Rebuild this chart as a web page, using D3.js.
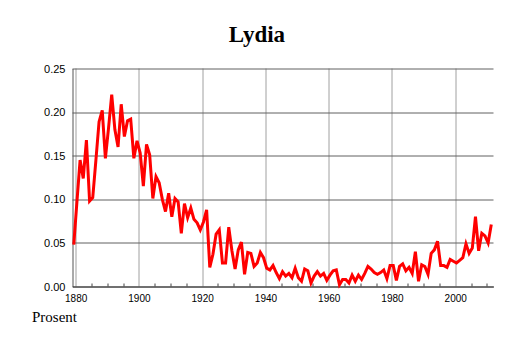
<!DOCTYPE html>
<html>
<head>
<meta charset="utf-8">
<script src="https://cdn.jsdelivr.net/npm/d3@7"></script>
<style>
  body { margin: 0; background: #fff; }
</style>
</head>
<body>
<div id="wrapper"></div>
<script>
const chartTitle = "Lydia"
const unitLabel = "Prosent"
const firstYear = 1879
// share of the population (percent) per year, 1879-2011
const share = [
  0.048, 0.097, 0.145, 0.124, 0.168, 0.098, 0.102, 0.145, 0.189, 0.202,
  0.147, 0.182, 0.220, 0.180, 0.160, 0.209, 0.172, 0.190, 0.192, 0.147,
  0.167, 0.153, 0.115, 0.163, 0.151, 0.101, 0.126, 0.119, 0.100, 0.086,
  0.107, 0.080, 0.101, 0.097, 0.061, 0.095, 0.079, 0.090, 0.077, 0.073,
  0.065, 0.074, 0.088, 0.022, 0.037, 0.060, 0.065, 0.027, 0.027, 0.068,
  0.041, 0.020, 0.042, 0.051, 0.014, 0.039, 0.038, 0.023, 0.027, 0.039,
  0.033, 0.021, 0.019, 0.024, 0.016, 0.009, 0.017, 0.012, 0.015, 0.010,
  0.021, 0.010, 0.006, 0.020, 0.018, 0.004, 0.012, 0.017, 0.012, 0.015,
  0.007, 0.013, 0.018, 0.019, 0.002, 0.008, 0.008, 0.004, 0.013, 0.006,
  0.013, 0.008, 0.015, 0.023, 0.020, 0.016, 0.014, 0.016, 0.019, 0.009,
  0.024, 0.024, 0.007, 0.023, 0.026, 0.018, 0.022, 0.015, 0.040, 0.006,
  0.025, 0.023, 0.014, 0.038, 0.042, 0.052, 0.024, 0.024, 0.022, 0.031,
  0.029, 0.027, 0.030, 0.033, 0.049, 0.038, 0.044, 0.080, 0.041, 0.061,
  0.058, 0.050, 0.071
]
const xTicks = [1880, 1900, 1920, 1940, 1960, 1980, 2000]
const xMinorTicks = [1885, 1890, 1895, 1905, 1910, 1915, 1925, 1930, 1935, 1945, 1950,
  1955, 1965, 1970, 1975, 1985, 1990, 1995, 2005, 2010]
const yTicks = [0, 0.05, 0.10, 0.15, 0.20, 0.25]

function drawChart() {
  const dataset = share.map((v, i) => ({ year: firstYear + i, value: v }))
  const xAccessor = d => d.year
  const yAccessor = d => d.value

  let dimensions = {
    width: 514,
    height: 343,
    margin: { top: 68.5, right: 20.5, bottom: 56.5, left: 72.5 }
  }
  dimensions.boundedWidth = dimensions.width - dimensions.margin.left - dimensions.margin.right
  dimensions.boundedHeight = dimensions.height - dimensions.margin.top - dimensions.margin.bottom

  const wrapper = d3.select("#wrapper")
    .append("svg")
      .attr("width", dimensions.width)
      .attr("height", dimensions.height)

  wrapper.append("rect")
    .attr("width", dimensions.width)
    .attr("height", dimensions.height)
    .attr("fill", "#fff")

  const bounds = wrapper.append("g")
    .attr("transform", `translate(${dimensions.margin.left},${dimensions.margin.top})`)

  const xScale = d3.scaleLinear()
    .domain([1879, 2012.1])
    .range([0, dimensions.boundedWidth])

  const yScale = d3.scaleLinear()
    .domain([0, 0.25])
    .range([dimensions.boundedHeight, 0])

  // grid
  bounds.append("g").selectAll("line")
    .data(xTicks)
    .enter().append("line")
      .attr("x1", d => Math.round(xScale(d)) + 0.5)
      .attr("x2", d => Math.round(xScale(d)) + 0.5)
      .attr("y1", 0)
      .attr("y2", dimensions.boundedHeight)
      .attr("stroke", "#a0a0a0")

  bounds.append("g").selectAll("line")
    .data(yTicks)
    .enter().append("line")
      .attr("x1", 0)
      .attr("x2", dimensions.boundedWidth)
      .attr("y1", d => Math.round(yScale(d)) + 0.5)
      .attr("y2", d => Math.round(yScale(d)) + 0.5)
      .attr("stroke", "#606060")

  // axes
  const yAxisGenerator = d3.axisLeft()
    .scale(yScale)
    .tickValues(yTicks)
    .tickFormat(d3.format(".2f"))
    .tickSize(0)
    .tickPadding(7)

  const yAxis = bounds.append("g")
    .call(yAxisGenerator)
  yAxis.select(".domain").attr("stroke", "#555")
  yAxis.selectAll("text")
    .attr("fill", "#000")
    .style("font-family", "'Liberation Sans', Arial, sans-serif")
    .style("font-size", "11px")

  const xAxisGenerator = d3.axisBottom()
    .scale(xScale)
    .tickValues(xTicks)
    .tickFormat(d3.format("d"))
    .tickSize(0)
    .tickPadding(8)

  const xAxis = bounds.append("g")
    .call(xAxisGenerator)
    .attr("transform", `translate(0,${dimensions.boundedHeight})`)
  xAxis.select(".domain").attr("stroke", "#333")
  xAxis.selectAll("text")
    .attr("fill", "#000")
    .style("font-family", "'Liberation Sans', Arial, sans-serif")
    .style("font-size", "10px")

  bounds.append("g").selectAll("line")
    .data(xMinorTicks)
    .enter().append("line")
      .attr("x1", d => Math.round(xScale(d)) + 0.5)
      .attr("x2", d => Math.round(xScale(d)) + 0.5)
      .attr("y1", dimensions.boundedHeight)
      .attr("y2", dimensions.boundedHeight - 3)
      .attr("stroke", "#444")

  // the line; yearly points sit a little right of the year gridline
  const lineGenerator = d3.line()
    .x(d => xScale(xAccessor(d) + 0.4))
    .y(d => yScale(yAccessor(d)))

  bounds.append("path")
    .attr("d", lineGenerator(dataset))
    .attr("fill", "none")
    .attr("stroke", "#ff0000")
    .attr("stroke-width", 3)
    .attr("stroke-linejoin", "miter")

  wrapper.append("text")
    .attr("x", dimensions.width / 2)
    .attr("y", 42)
    .attr("text-anchor", "middle")
    .style("font-family", "'Liberation Serif', 'Times New Roman', serif")
    .style("font-weight", "bold")
    .style("font-size", "23px")
    .text(chartTitle)

  wrapper.append("text")
    .attr("x", 32)
    .attr("y", 322)
    .style("font-family", "'Liberation Serif', 'Times New Roman', serif")
    .style("font-size", "15px")
    .text(unitLabel)
}

drawChart()
</script>
</body>
</html>
